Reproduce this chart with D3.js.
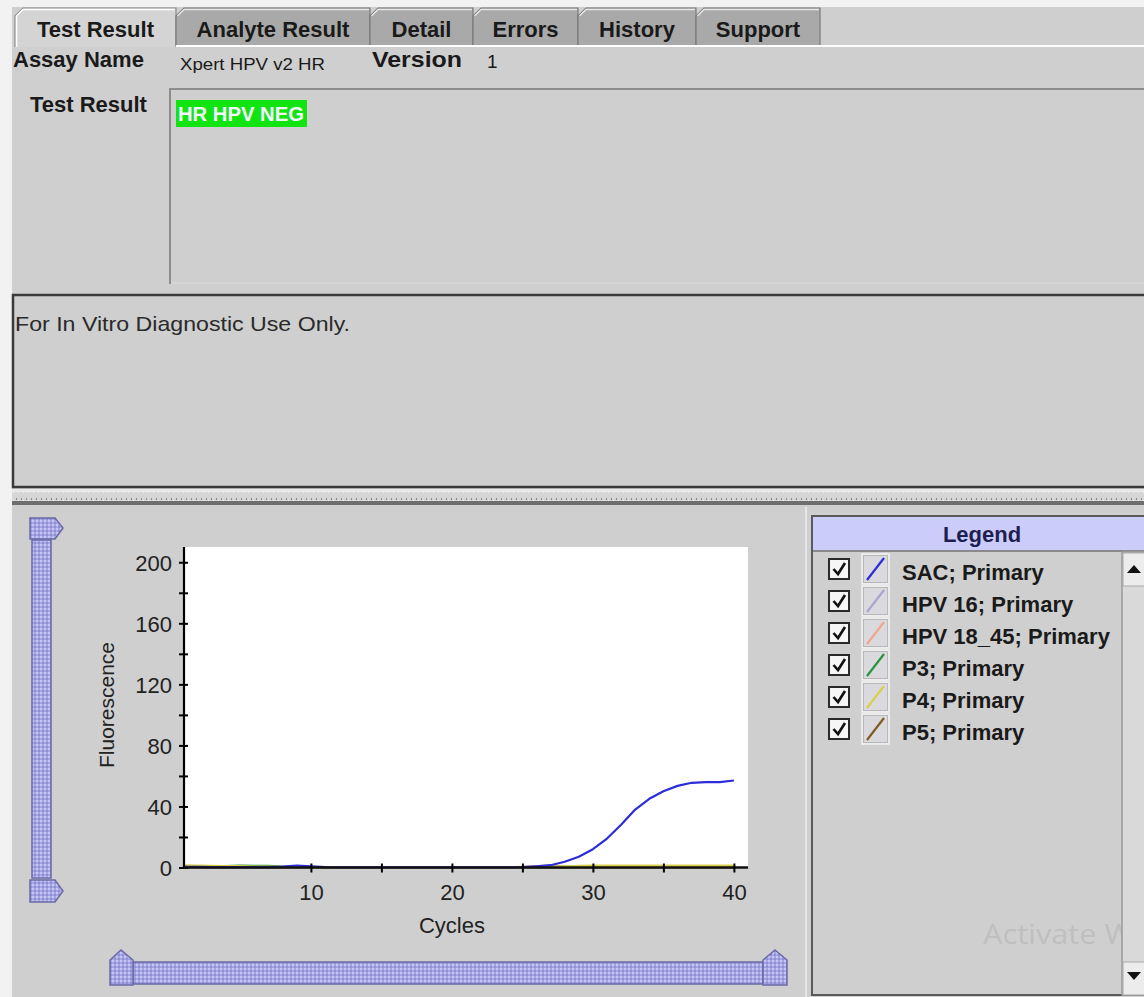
<!DOCTYPE html>
<html><head><meta charset="utf-8">
<script src="https://cdn.jsdelivr.net/npm/d3@7"></script>
<style>
html,body{margin:0;padding:0;background:#f2f2f2;overflow:hidden}
svg{display:block;font-family:"Liberation Sans",Arial,sans-serif}
</style>
</head><body>
<svg id="c" width="1144" height="997"></svg>
<script>
// ---------------- data ----------------
const tabLabels = ["Test Result","Analyte Result","Detail","Errors","History","Support"];
const assayName = "Xpert HPV v2 HR";
const assayVersion = "1";
const testResult = "HR HPV NEG";
const noticeText = "For In Vitro Diagnostic Use Only.";

const cycles = [1,2,3,4,5,6,7,8,9,10,11,12,13,14,15,16,17,18,19,20,21,22,23,24,25,26,27,28,29,30,31,32,33,34,35,36,37,38,39,40];
const sacValues    = [0.5,0.4,0.3,0.3,0.2,0.2,0.3,0.6,1.3,0.8,0.2,0.1,0.1,0.1,0.1,0.1,0.1,0.1,0.1,0.1,0.1,0.1,0.1,0.1,0.2,0.8,1.5,3.8,7,12,19,28,38,45,50,53.5,55.5,56,56,57];
const hpv16Values  = [0.3,0.3,0.2,0.2,0.2,0.2,0.2,0.2,0.2,0.2,0.1,0.1,0.1,0.1,0.1,0.1,0.1,0.1,0.1,0.1,0.1,0.1,0.1,0.1,0.1,0.2,0.2,0.2,0.2,0.2,0.2,0.2,0.2,0.2,0.2,0.2,0.2,0.2,0.2,0.2];
const hpv1845Values= [0.6,0.5,0.5,0.6,0.9,0.8,0.5,0.3,0.2,0.2,0.1,0.1,0.1,0.1,0.1,0.1,0.1,0.1,0.1,0.1,0.1,0.1,0.1,0.1,0.4,0.9,1.1,0.6,0.3,0.3,0.3,0.3,0.3,0.3,0.3,0.3,0.3,0.3,0.3,0.3];
const p3Values     = [0.8,0.7,0.7,0.9,1.1,1.0,1.0,0.5,0.3,0.2,0.1,0.1,0.1,0.1,0.1,0.1,0.1,0.1,0.1,0.1,0.1,0.1,0.1,0.1,0.1,0.2,0.3,0.3,0.4,0.4,0.4,0.4,0.4,0.4,0.4,0.4,0.4,0.4,0.4,0.4];
const p4Values     = [1.3,1.1,1.0,0.9,0.8,0.6,0.5,0.4,0.3,0.3,0.2,0.2,0.2,0.2,0.2,0.2,0.2,0.2,0.2,0.2,0.2,0.2,0.2,0.2,0.2,0.3,0.4,0.6,1.0,1.1,1.1,1.1,1.1,1.1,1.1,1.1,1.1,1.1,1.1,1.1];
const p5Values     = [0.2,0.2,0.2,0.2,0.2,0.2,0.2,0.2,0.2,0.2,0.1,0.1,0.1,0.1,0.1,0.1,0.1,0.1,0.1,0.1,0.1,0.1,0.1,0.1,0.1,0.1,0.1,0.1,0.1,0.1,0.1,0.1,0.1,0.1,0.1,0.1,0.1,0.1,0.1,0.1];

const seriesNames = ["SAC; Primary","HPV 16; Primary","HPV 18_45; Primary","P3; Primary","P4; Primary","P5; Primary"];
const seriesValues = [sacValues,hpv16Values,hpv1845Values,p3Values,p4Values,p5Values];

const yTickValues = [0,20,40,60,80,100,120,140,160,180,200];
const yTickLabels = [0,40,80,120,160,200];
const xTickValues = [10,15,20,25,30,35,40];
const xTickLabels = [10,20,30,40];

// ---------------- styles ----------------
const seriesColors = ["#2c2cd8","#aaa4d0","#f2a58e","#2a9440","#d8d04a","#7e5c22"];
const drawOrder = [1,5,2,3,4,0];
const PANEL = "#cfcfcf";

const svg = d3.select("#c");
const defs = svg.append("defs");
const pat = defs.append("pattern").attr("id","dots").attr("width",4).attr("height",4).attr("patternUnits","userSpaceOnUse");
pat.append("rect").attr("width",4).attr("height",4).attr("fill","#a6a6e6");
pat.append("circle").attr("cx",1).attr("cy",1).attr("r",0.9).attr("fill","#d4d4fa");
pat.append("circle").attr("cx",3).attr("cy",3).attr("r",0.9).attr("fill","#8484c8");
const pat2 = defs.append("pattern").attr("id","split").attr("width",5).attr("height",9).attr("patternUnits","userSpaceOnUse");
pat2.append("rect").attr("width",5).attr("height",9).attr("fill","#d6d6d6");
pat2.append("rect").attr("x",1).attr("y",3).attr("width",1).attr("height",2).attr("fill","#8a8a8a");
pat2.append("rect").attr("x",3).attr("y",5).attr("width",1).attr("height",2).attr("fill","#f4f4f4");

// background
svg.append("rect").attr("width",1144).attr("height",997).attr("fill","#f2f2f2");
svg.append("rect").attr("x",12).attr("y",7).attr("width",1132).attr("height",990).attr("fill",PANEL);

// ---------------- tabs ----------------
const tabEdges = [15,176,370,473,578,696,820];
const tabs = svg.append("g");
tabLabels.forEach((t,i)=>{
  const x0 = tabEdges[i], x1 = tabEdges[i+1];
  const sel = i===0;
  const top = 8, bot = sel?47:45;
  tabs.append("path")
    .attr("d",`M${x0},${bot} L${x0},${top+8} L${x0+8},${top} L${x1},${top} L${x1},${bot}`)
    .attr("fill", sel?"#d4d4d4":"#a9a9a9")
    .attr("stroke", sel?"#8a8a8a":"#7a7a7a").attr("stroke-width",1.2);
  if(!sel){
    tabs.append("path").attr("d",`M${x0+1.5},${top+8} L${x0+8},${top+1.5} L${x1-1},${top+1.5}`)
      .attr("fill","none").attr("stroke","#e6e6e6").attr("stroke-width",1.5);
  } else {
    tabs.append("path").attr("d",`M${x0+1.5},${bot} L${x0+1.5},${top+8} L${x0+8},${top+1.5} L${x1-1},${top+1.5}`)
      .attr("fill","none").attr("stroke","#ffffff").attr("stroke-width",1.5);
  }
  tabs.append("text").attr("x",(x0+x1)/2).attr("y",37).attr("text-anchor","middle")
    .attr("font-size",22).attr("font-weight","bold").attr("fill","#1a1a1a").text(t);
});
svg.append("line").attr("x1",176).attr("x2",1144).attr("y1",46).attr("y2",46).attr("stroke","#ffffff").attr("stroke-width",2);

// assay row
svg.append("text").attr("x",13).attr("y",67).attr("font-size",22).attr("font-weight","bold").attr("fill","#1a1a1a").text("Assay Name");
svg.append("text").attr("x",180).attr("y",70).attr("font-size",17).attr("fill","#1a1a1a")
  .attr("textLength",145).attr("lengthAdjust","spacingAndGlyphs").text(assayName);
svg.append("text").attr("x",372).attr("y",67).attr("font-size",22).attr("font-weight","bold").attr("fill","#1a1a1a")
  .attr("textLength",90).attr("lengthAdjust","spacingAndGlyphs").text("Version");
svg.append("text").attr("x",487).attr("y",68).attr("font-size",19).attr("fill","#1a1a1a").text(assayVersion);

// test result box
svg.append("text").attr("x",30).attr("y",112).attr("font-size",22).attr("font-weight","bold").attr("fill","#1a1a1a").text("Test Result");
svg.append("rect").attr("x",170).attr("y",89).attr("width",990).attr("height",194).attr("fill",PANEL)
  .attr("stroke","#8c8c8c").attr("stroke-width",2);
svg.append("path").attr("d","M1144,283 L171,283").attr("stroke","#eeeeee").attr("stroke-width",1.5);
svg.append("rect").attr("x",176).attr("y",100).attr("width",131).attr("height",27).attr("fill","#12e412");
svg.append("text").attr("x",178).attr("y",121).attr("font-size",20).attr("font-weight","bold").attr("fill","#f4f4ff")
  .attr("textLength",126).attr("lengthAdjust","spacingAndGlyphs").text(testResult);

// notice box
svg.append("rect").attr("x",13).attr("y",295).attr("width",1140).attr("height",192).attr("fill",PANEL)
  .attr("stroke","#3a3a3a").attr("stroke-width",2.5);
svg.append("text").attr("x",15).attr("y",331).attr("font-size",21).attr("fill","#2a2a2a")
  .attr("textLength",335).attr("lengthAdjust","spacingAndGlyphs").text(noticeText);

// splitter
svg.append("rect").attr("x",12).attr("y",489).attr("width",1132).attr("height",3).attr("fill","#e8e8e8");
svg.append("rect").attr("x",12).attr("y",492).attr("width",1132).attr("height",9).attr("fill","url(#split)");
svg.append("rect").attr("x",12).attr("y",501).attr("width",1132).attr("height",4).attr("fill","#6e6e6e");

// ---------------- chart ----------------
const x = d3.scaleLinear().domain([1,41]).range([184,748]);
const y = d3.scaleLinear().domain([0,210]).range([867.5,547]);

svg.append("rect").attr("x",x(1)).attr("y",y(210)).attr("width",x(41)-x(1)).attr("height",y(0)-y(210)).attr("fill","#ffffff");

const line = d3.line().x((d,i)=>x(cycles[i])).y(d=>y(d));
const lines = svg.append("g");
drawOrder.forEach(k=>{
  lines.append("path").datum(seriesValues[k]).attr("d",line).attr("fill","none")
    .attr("stroke",seriesColors[k]).attr("stroke-width",k===0?2.2:2.4).attr("stroke-linejoin","round");
});

const yAxis = svg.append("g").attr("transform",`translate(${x(1)},0)`)
  .call(d3.axisLeft(y).tickValues(yTickValues).tickSize(5).tickPadding(7)
    .tickFormat(d=>yTickLabels.includes(d)?d:""));
yAxis.select(".domain").attr("d",`M0,${y(210)}V${y(0)}`).attr("stroke","#000").attr("stroke-width",2.2);
yAxis.selectAll(".tick line").attr("x1",4).attr("x2",-5).attr("stroke","#000").attr("stroke-width",2);
yAxis.selectAll(".tick text").attr("font-size",22).attr("fill","#222").attr("font-family","Liberation Sans, Arial, sans-serif").attr("dy","0.36em");

const xAxis = svg.append("g").attr("transform",`translate(0,${y(0)})`)
  .call(d3.axisBottom(x).tickValues(xTickValues).tickSize(5).tickPadding(12)
    .tickFormat(d=>xTickLabels.includes(d)?d:""));
xAxis.select(".domain").attr("d",`M${x(1)},0H${x(41)}`).attr("stroke","#111").attr("stroke-width",2.6);
xAxis.selectAll(".tick line").attr("y1",-4).attr("y2",5).attr("stroke","#000").attr("stroke-width",2);
xAxis.selectAll(".tick text").attr("font-size",22).attr("fill","#222").attr("font-family","Liberation Sans, Arial, sans-serif");

svg.append("text").attr("x",452).attr("y",933).attr("text-anchor","middle").attr("font-size",22).attr("fill","#222").text("Cycles");
svg.append("text").attr("transform","translate(114,705) rotate(-90)").attr("text-anchor","middle").attr("font-size",21).attr("fill","#222").text("Fluorescence");

// vertical slider
const sl = svg.append("g").attr("stroke","#6a6aa6").attr("stroke-width",1.5);
sl.append("rect").attr("x",32).attr("y",540).attr("width",19).attr("height",338).attr("fill","url(#dots)");
sl.append("path").attr("d","M30,518 L55,518 L63,528 L55,539 L30,539 Z").attr("fill","url(#dots)");
sl.append("path").attr("d","M30,880 L55,880 L63,891 L55,902 L30,902 Z").attr("fill","url(#dots)");
// horizontal slider
sl.append("rect").attr("x",133).attr("y",962).attr("width",630).attr("height",22).attr("fill","url(#dots)");
sl.append("path").attr("d","M110,985 L110,960 L121,950 L133,960 L133,985 Z").attr("fill","url(#dots)");
sl.append("path").attr("d","M763,985 L763,960 L775,950 L787,960 L787,985 Z").attr("fill","url(#dots)");

// ---------------- legend ----------------
svg.append("line").attr("x1",806).attr("x2",806).attr("y1",507).attr("y2",997).attr("stroke","#e6e6e6").attr("stroke-width",2);
svg.append("rect").attr("x",812).attr("y",516).attr("width",340).attr("height",479).attr("fill",PANEL)
  .attr("stroke","#5a5a5a").attr("stroke-width",2);
svg.append("rect").attr("x",813).attr("y",517).attr("width",340).attr("height",34).attr("fill","#ccccfa");
svg.append("line").attr("x1",813).attr("x2",1144).attr("y1",551).attr("y2",551).attr("stroke","#8a8a8a").attr("stroke-width",2);
svg.append("text").attr("x",982).attr("y",542).attr("text-anchor","middle").attr("font-size",22).attr("font-weight","bold").attr("fill","#1e1e50").text("Legend");

const leg = svg.append("g");
seriesNames.forEach((name,i)=>{
  const cy = 569 + i*32;
  leg.append("rect").attr("x",829).attr("y",cy-10).attr("width",20).attr("height",20).attr("fill","#f6f6f6").attr("stroke","#2a2a2a").attr("stroke-width",2);
  leg.append("path").attr("d",`M833.5,${cy} L838,${cy+5} L845,${cy-6}`).attr("fill","none").attr("stroke","#111").attr("stroke-width",2.6);
  leg.append("rect").attr("x",862).attr("y",cy-15).attr("width",27).attr("height",30).attr("fill","#d9d9de").attr("stroke","#f2f2f2").attr("stroke-width",1.5);
  leg.append("rect").attr("x",863.5).attr("y",cy-13.5).attr("width",24).attr("height",27).attr("fill","none").attr("stroke","#b8b8b8").attr("stroke-width",1);
  leg.append("line").attr("x1",867).attr("y1",cy+11).attr("x2",884).attr("y2",cy-11).attr("stroke",seriesColors[i]).attr("stroke-width",2.2);
  leg.append("text").attr("x",902).attr("y",cy+11).attr("font-size",22).attr("font-weight","bold").attr("fill","#1a1a1a").text(name);
});

// watermark (drawn under the scrollbar)
svg.append("text").attr("x",983).attr("y",944).attr("font-size",28).attr("font-family","Open Sans, sans-serif").attr("fill","#bfbfbf")
  .attr("textLength",150).attr("lengthAdjust","spacingAndGlyphs").text("Activate W");

// scrollbar
svg.append("rect").attr("x",1122).attr("y",552).attr("width",24).attr("height",443).attr("fill","#d9d9d9").attr("stroke","#9a9a9a").attr("stroke-width",1.5);
svg.append("rect").attr("x",1123).attr("y",553).attr("width",22).attr("height",33).attr("fill","#ececec").attr("stroke","#a8a8a8").attr("stroke-width",1);
svg.append("path").attr("d","M1127,573 L1134,565 L1141,573 Z").attr("fill","#111");
svg.append("rect").attr("x",1123).attr("y",962).attr("width",22).attr("height",33).attr("fill","#ececec").attr("stroke","#a8a8a8").attr("stroke-width",1);
svg.append("path").attr("d","M1127,972 L1134,980 L1141,972 Z").attr("fill","#111");
</script>
</body></html>
